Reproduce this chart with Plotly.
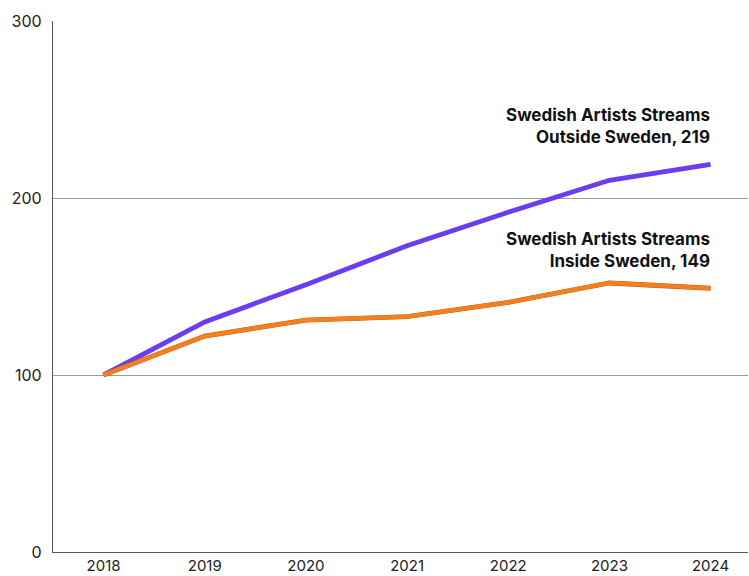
import plotly.graph_objects as go

years = [2018, 2019, 2020, 2021, 2022, 2023, 2024]
outside_sweden = [100, 130, 151, 173, 192, 210, 219]
inside_sweden = [100, 122, 131, 133, 141, 152, 149]

PURPLE = "#6b3cf0"
ORANGE = "#f47f1f"
FONT = "Inter, Lato, sans-serif"

fig = go.Figure()

fig.add_trace(go.Scatter(x=years, y=outside_sweden, mode="lines",
                         line=dict(color=PURPLE, width=4.8),
                         hoverinfo="x+y", showlegend=False))
# thin darker edge under the orange line
fig.add_trace(go.Scatter(x=years, y=inside_sweden, mode="lines",
                         line=dict(color="#b25c1c", width=4.9),
                         hoverinfo="skip", showlegend=False))
fig.add_trace(go.Scatter(x=years, y=inside_sweden, mode="lines",
                         line=dict(color=ORANGE, width=4.2),
                         hoverinfo="x+y", showlegend=False))

labels = [
    ("Swedish Artists Streams<br>Outside Sweden, " + str(outside_sweden[-1]), outside_sweden[-1]),
    ("Swedish Artists Streams<br>Inside Sweden, " + str(inside_sweden[-1]), inside_sweden[-1]),
]
for text, val in labels:
    fig.add_annotation(x=years[-1], y=val, text="<b>" + text + "</b>",
                       xanchor="right", yanchor="bottom", align="right",
                       showarrow=False, yshift=15, xshift=1,
                       font=dict(family=FONT, size=17, color="#111"))

fig.update_layout(
    width=749, height=576,
    margin=dict(l=53, r=1, t=21, b=24),
    paper_bgcolor="white", plot_bgcolor="white",
    font=dict(family=FONT, size=16, color="#222"),
    xaxis=dict(range=[2017.5, 2024.37], tickmode="array", tickvals=years,
               ticktext=[str(y) for y in years], showgrid=False,
               showline=True, linecolor="#555", linewidth=1.2,
               ticks="", ticklabelstandoff=0, zeroline=False,
               tickfont=dict(size=15), automargin=False),
    yaxis=dict(range=[0, 300], tickvals=[0, 100, 200, 300],
               showgrid=True, gridcolor="#9a9a9a", gridwidth=1,
               showline=True, linecolor="#555", linewidth=1.2,
               ticks="", ticklabelstandoff=7, zeroline=False,
               automargin=False),
)

fig.write_html("out.html")
